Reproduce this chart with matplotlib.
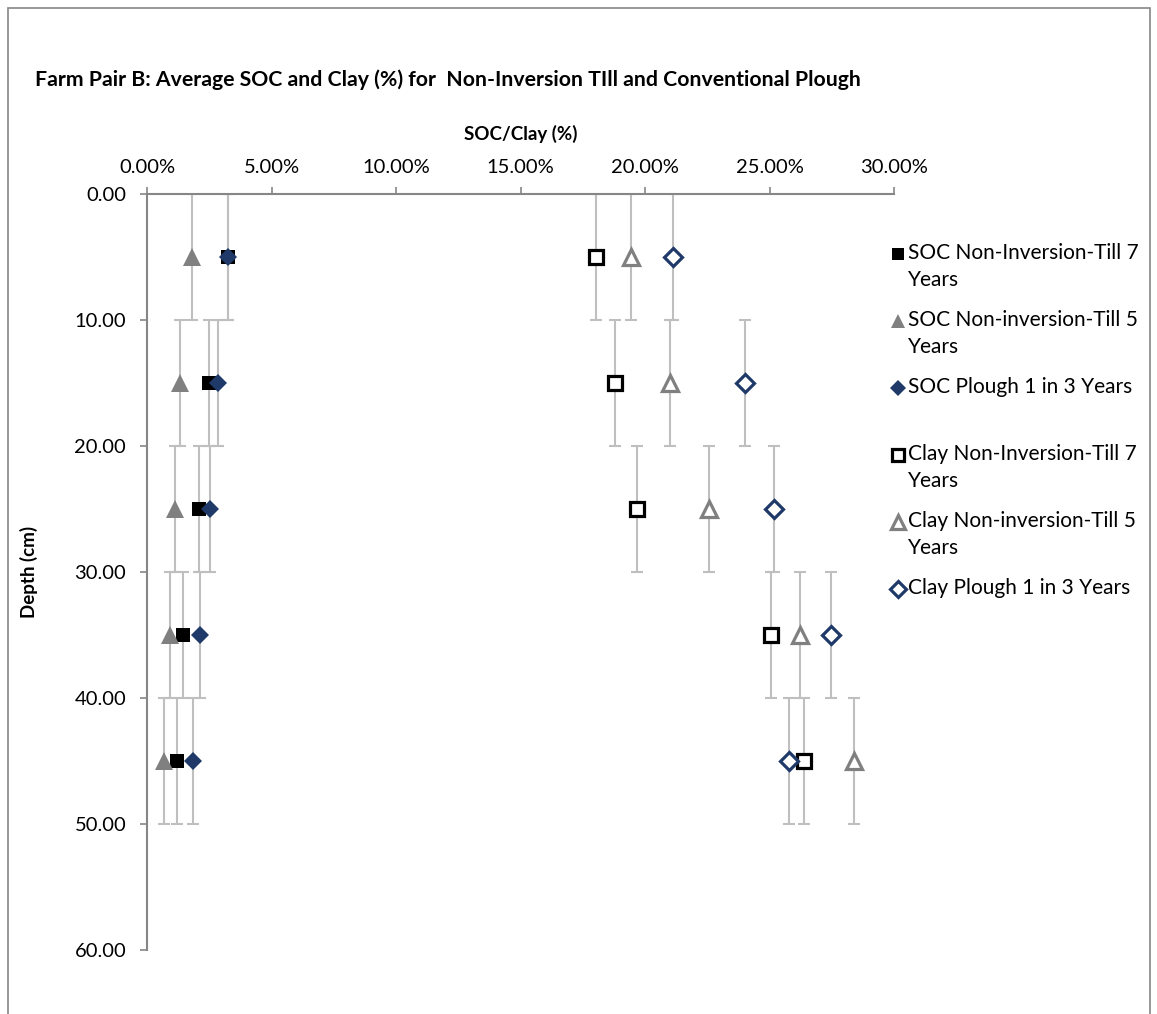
import matplotlib.pyplot as plt
from matplotlib.lines import Line2D
from matplotlib.patches import Rectangle
from matplotlib.ticker import FuncFormatter, MultipleLocator

plt.rcParams['font.family'] = ['Lato', 'DejaVu Sans']

# Глубина (середина слоя) и половина толщины слоя, см
depth = [5, 15, 25, 35, 45]
depth_err = [5, 5, 5, 5, 5]

# SOC, %
soc_nit7 = [3.24, 2.47, 2.10, 1.43, 1.19]
soc_nit5 = [1.81, 1.31, 1.11, 0.94, 0.69]
soc_plough = [3.24, 2.85, 2.55, 2.14, 1.85]

# Глина, %
clay_nit7 = [18.03, 18.78, 19.68, 25.06, 26.37]
clay_nit5 = [19.44, 20.99, 22.58, 26.22, 28.38]
clay_plough = [21.12, 24.02, 25.19, 27.47, 25.80]

labels = ['SOC Non-Inversion-Till 7\nYears',
          'SOC Non-inversion-Till 5\nYears',
          'SOC Plough 1 in 3 Years',
          'Clay Non-Inversion-Till 7\nYears',
          'Clay Non-inversion-Till 5\nYears',
          'Clay Plough 1 in 3 Years']

navy = '#1F3A68'
styles = [
    dict(marker='s', ms=10, mfc='black', mec='black', mew=0),
    dict(marker='^', ms=12.5, mfc='#808080', mec='#808080', mew=0),
    dict(marker='D', ms=9.5, mfc=navy, mec=navy, mew=0),
    dict(marker='s', ms=9.5, mfc='white', mec='black', mew=2.3),
    dict(marker='^', ms=12, mfc='white', mec='#808080', mew=2.3),
    dict(marker='D', ms=9.5, mfc='white', mec=navy, mew=2.3),
]
series = [soc_nit7, soc_nit5, soc_plough, clay_nit7, clay_nit5, clay_plough]

W, H = 1157, 1014
fig = plt.figure(figsize=(W / 100, H / 100), dpi=100)
ax = fig.add_axes([147 / W, 1 - 950 / H, (894 - 147) / W, (950 - 194) / H])

for vals, st in zip(series, styles):
    ax.errorbar(vals, depth, yerr=depth_err, fmt='none', ecolor='#BFBFBF',
                elinewidth=1.5, capsize=4.5, capthick=1.5, zorder=2)
for vals, st in zip(series, styles):
    ax.plot(vals, depth, linestyle='none', zorder=3, **st)

ax.set_xlim(0, 30)
ax.set_ylim(60, 0)
ax.xaxis.set_major_locator(MultipleLocator(5))
ax.yaxis.set_major_locator(MultipleLocator(10))
ax.xaxis.set_major_formatter(FuncFormatter(lambda v, p: f'{v:.2f}%'))
ax.yaxis.set_major_formatter(FuncFormatter(lambda v, p: f'{v:.2f}'))
ax.xaxis.tick_top()
ax.xaxis.set_label_position('top')
ax.tick_params(axis='both', direction='out', length=5, width=1.2,
               color='#868686', labelsize=14.5)
ax.tick_params(axis='x', pad=8)
ax.tick_params(axis='y', pad=10)
for side in ['right', 'bottom']:
    ax.spines[side].set_visible(False)
for side in ['left', 'top']:
    ax.spines[side].set_color('#868686')
    ax.spines[side].set_linewidth(1.5)

ax.set_xlabel('SOC/Clay (%)', fontsize=13.5, fontweight='bold', labelpad=14)
ax.set_ylabel('Depth (cm)', fontsize=13.5, fontweight='bold', labelpad=26)

fig.text(35 / W, 1 - 80 / H,
         'Farm Pair B: Average SOC and Clay (%) for  Non-Inversion TIll and Conventional Plough',
         fontsize=15.3, fontweight='bold', va='center', ha='left')

# Легенда справа
for i, (lab, st) in enumerate(zip(labels, styles)):
    y = 254 + 67 * i
    fig.add_artist(Line2D([898 / W], [1 - y / H], transform=fig.transFigure,
                          linestyle='none', **dict(st, ms=st['ms'] * 0.85)))
    fig.text(908 / W, 1 - (y - 11) / H, lab, fontsize=15, va='top', ha='left',
             linespacing=1.45)

# Рамка области диаграммы
fig.add_artist(Rectangle((8 / W, -0.05), (1150 - 8) / W, 1 - 8 / H + 0.05,
                         transform=fig.transFigure, fill=False,
                         edgecolor='#868686', linewidth=1.2))

plt.savefig('out.png', dpi=100)
